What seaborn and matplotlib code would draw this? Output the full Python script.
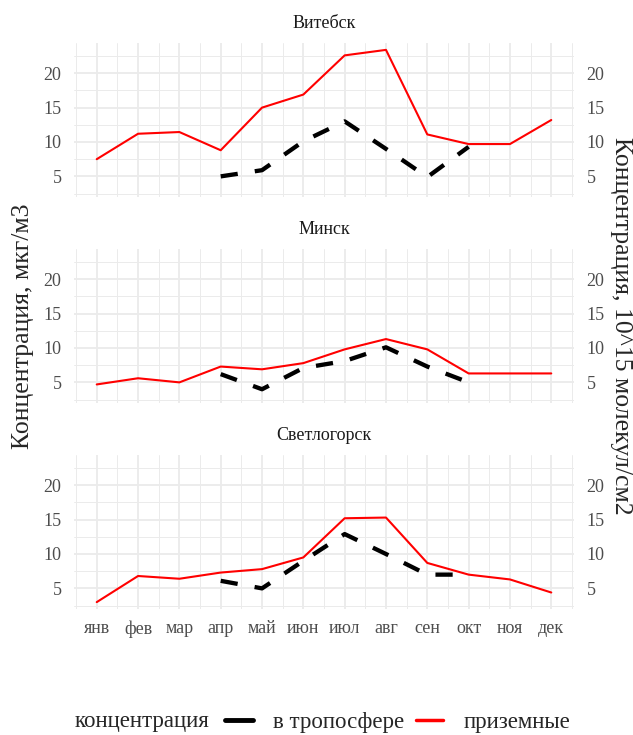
import numpy as np
import pandas as pd
import matplotlib
matplotlib.use('Agg')
import matplotlib.pyplot as plt
import seaborn as sns
from matplotlib.lines import Line2D

# Data
months = ['янв', 'фев', 'мар', 'апр', 'май', 'июн', 'июл', 'авг', 'сен', 'окт', 'ноя', 'дек']
cities = ['Витебск', 'Минск', 'Светлогорск']
nan = np.nan

vit_ground = [7.5, 11.2, 11.45, 8.8, 15.0, 16.9, 22.6, 23.4, 11.1, 9.7, 9.7, 13.2]
vit_tropo = [nan, nan, nan, 5.0, 5.9, 10.1, 13.0, 9.0, 4.9, 9.3, nan, nan]
min_ground = [4.7, 5.6, 5.0, 7.3, 6.9, 7.8, 9.8, 11.3, 9.8, 6.3, 6.3, 6.3]
min_tropo = [nan, nan, nan, 6.2, 4.0, 7.1, 8.1, 10.1, 7.3, 5.0, nan, nan]
svet_ground = [3.0, 6.8, 6.4, 7.3, 7.8, 9.5, 15.2, 15.3, 8.7, 7.0, 6.3, 4.4]
svet_tropo = [nan, nan, nan, 6.1, 5.0, 9.0, 12.9, 10.0, 7.0, 7.0, nan, nan]

lab_tropo = 'в тропосфере'
lab_ground = 'приземные'

rows = []
series = {
    'Витебск': (vit_tropo, vit_ground),
    'Минск': (min_tropo, min_ground),
    'Светлогорск': (svet_tropo, svet_ground),
}
for city, (tropo, ground) in series.items():
    for i in range(12):
        rows.append((city, i + 1, lab_tropo, tropo[i]))
        rows.append((city, i + 1, lab_ground, ground[i]))
df = pd.DataFrame(rows, columns=['city', 'month', 'type', 'value']).dropna()

sns.set_theme(style='white')
plt.rcParams['font.family'] = ['Liberation Serif', 'DejaVu Serif']

W, H = 633, 735
fig = plt.figure(figsize=(W / 100, H / 100), dpi=100)

palette = {lab_tropo: 'black', lab_ground: '#FF0000'}
dashes = {lab_tropo: (4, 4), lab_ground: ''}
sizes = {lab_tropo: 3.1, lab_ground: 1.5}

left_px, width_px, height_px = 74, 500, 154
tops_px = [43, 249, 455]
title_y = [23, 229, 436]
grid_col = '#EBEBEB'

for city, top, ty in zip(cities, tops_px, title_y):
    ax = fig.add_axes([left_px / W, 1 - (top + height_px) / H, width_px / W, height_px / H])
    sub = df[df['city'] == city]
    sns.lineplot(data=sub, x='month', y='value', hue='type', style='type', size='type',
                 palette=palette, dashes=dashes, sizes=sizes,
                 hue_order=[lab_tropo, lab_ground], ax=ax, legend=False)
    ax.set_xlim(0.45, 12.55)
    ax.set_ylim(2.0, 24.4)
    ax.set_xticks(range(1, 13))
    ax.set_xticks(np.arange(0.5, 13, 1), minor=True)
    ax.set_yticks([5, 10, 15, 20])
    ax.set_yticks([2.5, 7.5, 12.5, 17.5, 22.5], minor=True)
    ax.grid(which='major', color=grid_col, linewidth=1.3)
    ax.grid(which='minor', color=grid_col, linewidth=0.7)
    ax.set_axisbelow(True)
    for s in ax.spines.values():
        s.set_visible(False)
    ax.set_xlabel('')
    ax.set_ylabel('')
    ax.tick_params(axis='both', which='both', length=0, labelsize=13, labelcolor='#4D4D4D')
    ax.tick_params(axis='y', pad=9, labelright=True)
    ax.tick_params(axis='x', pad=8)
    if city == cities[-1]:
        ax.set_xticklabels(months)
    else:
        ax.set_xticklabels([])
    fig.text((left_px + width_px / 2) / W, 1 - ty / H, city, ha='center', va='center',
             fontsize=13, color='#1A1A1A')

# axis titles
mid_y = 1 - 326 / H
fig.text(23 / W, mid_y, 'Концентрация, мкг/м3', rotation=90, ha='center', va='center', fontsize=18.5)
fig.text(621 / W, mid_y, 'Концентрация, 10^15 молекул/см2', rotation=-90, ha='center', va='center',
         fontsize=18.5)

# legend at bottom
leg_y = 1 - 722 / H
fig.text(75 / W, leg_y, 'концентрация', ha='left', va='center', fontsize=16.5)
handles = [Line2D([], [], color='black', linewidth=3.5),
           Line2D([], [], color='#FF0000', linewidth=2.5)]
fig.legend(handles, [lab_tropo, lab_ground], loc='center left', ncol=2,
           bbox_to_anchor=(225 / W, leg_y), frameon=False, fontsize=16.5,
           handlelength=1.2, handletextpad=0.9, columnspacing=0.5, borderaxespad=0, borderpad=0)

fig.savefig('out.png', dpi=100)
